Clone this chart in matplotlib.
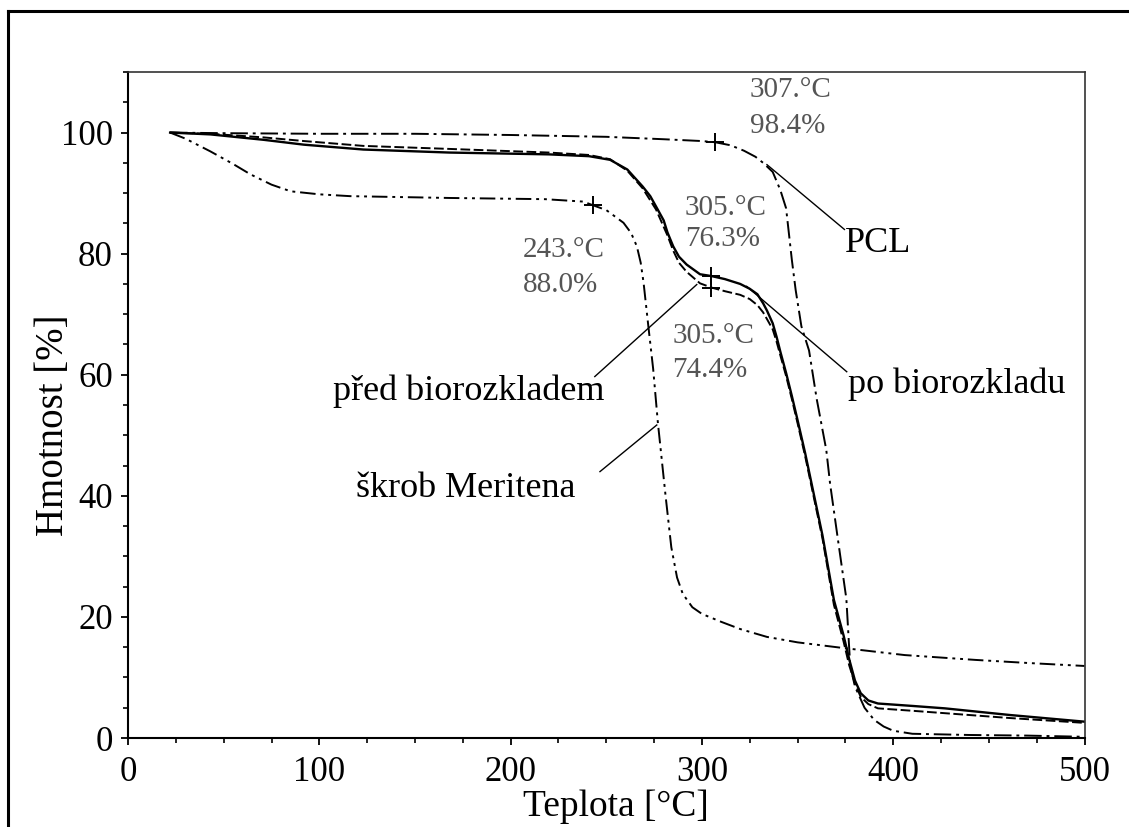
import matplotlib
matplotlib.use("Agg")
import matplotlib.pyplot as plt
from matplotlib.lines import Line2D
from matplotlib.ticker import MultipleLocator

plt.rcParams['font.family'] = ['Liberation Serif', 'DejaVu Serif']

# TGA curves: temperature [°C] and remaining mass [%]
pcl_t = [22, 50, 100, 150, 200, 250, 280, 300, 307, 315, 322, 328, 332, 337,
         341, 344, 347, 349, 352, 356, 360, 365, 367, 371, 375.5, 377.5, 380,
         385, 390, 395, 400, 410, 440, 470, 500]
pcl_w = [100, 99.9, 99.8, 99.8, 99.6, 99.3, 98.9, 98.6, 98.4, 97.9, 97.0,
         96.0, 95.0, 93.5, 90.5, 87.5, 79.0, 74.0, 68.0, 64.0, 56.0, 47.6,
         42.0, 33.0, 23.0, 12.0, 8.5, 5.0, 3.0, 1.9, 1.2, 0.7, 0.5, 0.4, 0.2]

pred_t = [22, 43, 71, 92, 123, 168, 220, 241, 252, 261, 269, 273, 276, 280,
          282, 285, 288, 292, 299, 305, 312, 320, 325, 329, 332, 334, 337,
          339, 341, 344, 347, 350, 354, 358, 363, 369, 374, 377, 380, 383,
          387, 392, 410, 427, 461, 500]
pred_w = [100, 99.7, 98.8, 98.0, 97.2, 96.7, 96.4, 96.1, 95.5, 93.9, 91.1,
          89.5, 87.8, 85.5, 83.5, 81.2, 79.5, 78.2, 76.6, 76.3, 75.8, 75.0,
          74.2, 73.3, 71.8, 70.6, 68.5, 66.3, 63.8, 60.3, 56.5, 52.5, 47.0,
          41.0, 33.5, 22.8, 17.0, 13.0, 9.5, 7.4, 6.2, 5.7, 5.3, 4.9, 3.8, 2.7]

po_t = [22, 43, 71, 92, 123, 168, 220, 241, 252, 261, 269, 276, 282, 285,
        288, 292, 299, 305, 312, 320, 325, 329, 332, 334, 337, 339, 341, 344,
        347, 350, 354, 358, 363, 369, 374, 377, 380, 383, 387, 392, 410, 427,
        461, 500]
po_w = [100, 99.8, 99.2, 98.6, 97.8, 97.3, 96.7, 96.3, 95.6, 93.7, 90.8,
        87.3, 83.0, 80.5, 78.5, 77.0, 75.1, 74.4, 73.8, 73.2, 72.5, 71.5,
        70.3, 69.2, 67.5, 65.5, 63.2, 59.8, 56.0, 52.0, 46.5, 40.5, 33.0,
        22.0, 16.0, 12.0, 9.0, 6.8, 5.6, 4.9, 4.5, 4.1, 3.3, 2.5]

skrob_t = [22, 30, 43, 55, 64, 75, 85, 100, 116, 168, 218, 238, 243, 250,
           259, 263, 266, 268, 269.5, 272, 274.5, 277, 281, 284, 287, 290,
           295, 300, 310, 320, 334, 350, 373, 406, 443, 470, 500]
skrob_w = [100, 99.0, 96.9, 94.8, 93.1, 91.4, 90.3, 89.8, 89.5, 89.2, 89.0,
           88.6, 88.0, 87.2, 85.1, 83.4, 81.2, 78.5, 75.2, 68.0, 61.0, 52.0,
           40.0, 31.5, 26.5, 23.8, 21.6, 20.5, 19.2, 18.0, 16.7, 15.8, 14.9,
           13.7, 12.9, 12.4, 11.9]

# onset points (temperature, mass) marked with "+"
onset_t = [307, 305, 243, 305]
onset_w = [98.4, 76.3, 88.0, 74.4]

fig = plt.figure(figsize=(11.29, 8.27), dpi=100)
ax = fig.add_axes([0.1134, 0.1076, 0.8472, 0.8053])

lw = 1.4
ax.plot(pcl_t, pcl_w, color='black', lw=lw, linestyle=(0, (9, 2.5, 1.5, 2.5)))
ax.plot(pred_t, pred_w, color='black', lw=lw + 0.3, linestyle='-')
ax.plot(po_t, po_w, color='black', lw=lw, linestyle=(0, (5, 1.8)))
ax.plot(skrob_t, skrob_w, color='black', lw=lw,
        linestyle=(0, (8, 2.5, 1.5, 2.5, 1.5, 2.5)))
ax.plot(onset_t, onset_w, linestyle='none', marker='+', color='black',
        markersize=13, markeredgewidth=1.4)

# onset value labels, two lines each
gray = '#555555'
label_x = [325, 291, 206.5, 284.5]
label_y = [(105.8, 100.0), (86.4, 81.2), (79.5, 73.7), (65.3, 59.7)]
for t, w, x, (y1, y2) in zip(onset_t, onset_w, label_x, label_y):
    ax.text(x, y1, f'{t}.°C', fontsize=21, color=gray, va='baseline')
    ax.text(x, y2, f'{w:.1f}%', fontsize=21, color=gray, va='baseline')

# curve names with leader lines
names = [
    ('PCL', 375, 80.3, (334, 94.7), (374.5, 84.0)),
    ('po biorozkladu', 376.6, 57.0, (323.4, 74.6), (375.7, 60.5)),
    ('před biorozkladem', 107.2, 55.9, (297.3, 74.9), (244, 59.7)),
    ('škrob Meritena', 119.2, 39.8, (276.4, 51.7), (246.7, 44.0)),
]
for name, tx, ty, p0, p1 in names:
    ax.plot([p0[0], p1[0]], [p0[1], p1[1]], color='black', lw=1.0)
    ax.text(tx, ty, name, fontsize=26, color='black', va='baseline')

ax.set_xlim(0, 500)
ax.set_ylim(0, 110)
ax.xaxis.set_major_locator(MultipleLocator(100))
ax.xaxis.set_minor_locator(MultipleLocator(25))
ax.yaxis.set_major_locator(MultipleLocator(20))
ax.yaxis.set_minor_locator(MultipleLocator(5))
ax.tick_params(which='major', direction='out', length=5, width=1.3,
               labelsize=25, colors='black', pad=6)
ax.tick_params(which='minor', direction='out', length=3.5, width=1.2)
ax.tick_params(axis='x', which='major', pad=8)

for side in ['left', 'bottom']:
    ax.spines[side].set_linewidth(1.5)
for side in ['top', 'right']:
    ax.spines[side].set_linewidth(1.2)
    ax.spines[side].set_color('#333333')

ax.set_xlabel('Teplota [°C]', fontsize=27)
ax.xaxis.label.set_va('baseline')
ax.xaxis.set_label_coords(0.51, -0.117)
ax.set_ylabel('Hmotnost [%]', fontsize=28)
ax.yaxis.set_label_coords(-0.059, 0.47)

# outer frame (left and top edges)
fig.add_artist(Line2D([8 / 1129, 8 / 1129], [0, 1 - 11 / 827],
                      transform=fig.transFigure, color='black', lw=2.2))
fig.add_artist(Line2D([8 / 1129, 1], [1 - 11 / 827, 1 - 11 / 827],
                      transform=fig.transFigure, color='black', lw=2.2))

fig.savefig('out.png', dpi=100)
